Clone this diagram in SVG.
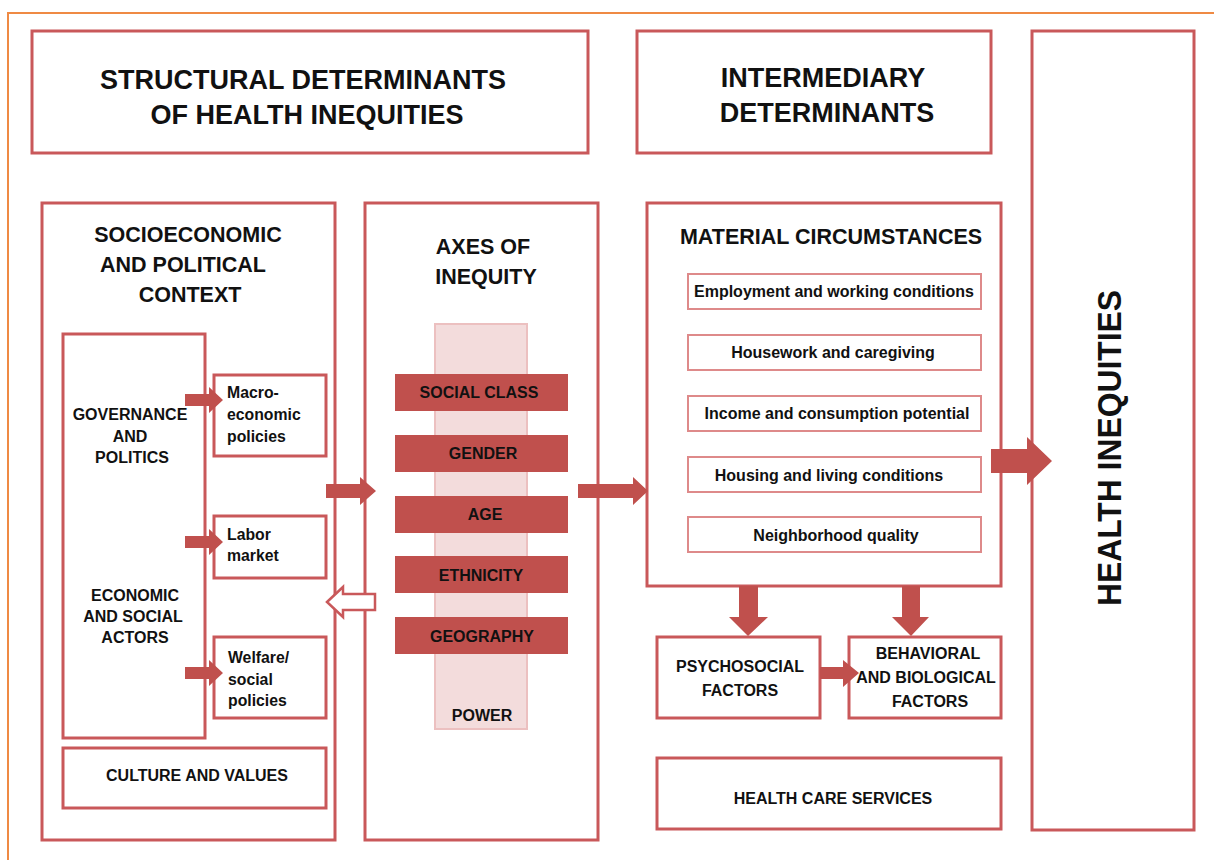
<svg xmlns="http://www.w3.org/2000/svg" width="1214" height="860" viewBox="0 0 1214 860">
<style>
.box{fill:#fff;stroke:#c9585a;stroke-width:3}
.sub{fill:#fff;stroke:#de8a8a;stroke-width:2}
.arr{fill:#c0504d;stroke:none}
.harr{fill:#fff;stroke:#c9585a;stroke-width:2.5}
.bar{fill:#c0504d}
.col{fill:#f3dcdc;stroke:#ecc0c0;stroke-width:2}
text{font-family:"Liberation Sans",Arial,sans-serif;font-weight:bold;fill:#111}
.t1{font-size:27px;text-anchor:middle}
.t2{font-size:21.5px;text-anchor:middle}
.t3{font-size:16px;text-anchor:middle}
.t4{font-size:15.8px}
.t5{font-size:16px;text-anchor:middle}
</style>
<rect width="1214" height="860" fill="#fff"/>
<path d="M8 860 V13 H1214" fill="none" stroke="#ef8a44" stroke-width="2"/>

<g id="structural-title">
<rect class="box" x="32" y="31" width="556" height="122"/>
<text class="t1" x="303" y="89">STRUCTURAL DETERMINANTS</text>
<text class="t1" x="307" y="124">OF HEALTH INEQUITIES</text>
</g>
<g id="intermediary-title">
<rect class="box" x="637" y="31" width="354" height="122"/>
<text class="t1" x="823" y="87">INTERMEDIARY</text>
<text class="t1" x="827" y="122">DETERMINANTS</text>
</g>
<g id="health-inequities">
<rect class="box" x="1032" y="31" width="162" height="799"/>
<text transform="translate(1121,448) rotate(-90)" font-size="34" text-anchor="middle" textLength="316" lengthAdjust="spacingAndGlyphs">HEALTH INEQUITIES</text>
</g>

<g id="socioeconomic-context">
<rect class="box" x="42" y="203" width="293" height="637"/>
<text class="t2" x="188" y="242">SOCIOECONOMIC</text>
<text class="t2" x="183" y="272">AND POLITICAL</text>
<text class="t2" x="190" y="302">CONTEXT</text>
</g>
<g id="governance">
<rect class="box" x="63" y="334" width="142" height="404"/>
<text class="t3" x="130" y="420">GOVERNANCE</text>
<text class="t3" x="130" y="442">AND</text>
<text class="t3" x="132" y="463">POLITICS</text>
<text class="t3" x="135" y="601">ECONOMIC</text>
<text class="t3" x="133" y="622">AND SOCIAL</text>
<text class="t3" x="135" y="643">ACTORS</text>
</g>
<g id="macroeconomic">
<rect class="box" x="214" y="375" width="112" height="81"/>
<text class="t4" x="227" y="398">Macro-</text>
<text class="t4" x="227" y="420">economic</text>
<text class="t4" x="227" y="442">policies</text>
</g>
<g id="labor-market">
<rect class="box" x="214" y="516" width="112" height="62"/>
<text class="t4" x="227" y="540">Labor</text>
<text class="t4" x="227" y="561">market</text>
</g>
<g id="welfare">
<rect class="box" x="214" y="637" width="112" height="81"/>
<text class="t4" x="228" y="663">Welfare/</text>
<text class="t4" x="228" y="685">social</text>
<text class="t4" x="228" y="706">policies</text>
</g>
<g id="culture">
<rect class="box" x="63" y="748" width="263" height="60"/>
<text class="t5" x="197" y="781">CULTURE AND VALUES</text>
</g>

<g id="axes-of-inequity">
<rect class="box" x="365" y="203" width="233" height="637"/>
<text class="t2" x="483" y="254">AXES OF</text>
<text class="t2" x="486" y="284">INEQUITY</text>
<rect class="col" x="435" y="324" width="92" height="405"/>
<text class="t5" x="482" y="721">POWER</text>
</g>
<g id="social-class"><rect class="bar" x="395" y="374" width="173" height="37"/><text class="t5" x="479" y="398">SOCIAL CLASS</text></g>
<g id="gender"><rect class="bar" x="395" y="435" width="173" height="37"/><text class="t5" x="483" y="459">GENDER</text></g>
<g id="age"><rect class="bar" x="395" y="496" width="173" height="37"/><text class="t5" x="485" y="520">AGE</text></g>
<g id="ethnicity"><rect class="bar" x="395" y="556" width="173" height="37"/><text class="t5" x="481" y="581">ETHNICITY</text></g>
<g id="geography"><rect class="bar" x="395" y="617" width="173" height="37"/><text class="t5" x="482" y="642">GEOGRAPHY</text></g>

<g id="material-circumstances">
<rect class="box" x="647" y="203" width="354" height="383"/>
<text class="t2" x="831" y="244">MATERIAL CIRCUMSTANCES</text>
</g>
<g id="employment"><rect class="sub" x="688" y="274" width="293" height="35"/><text class="t5" x="834" y="297">Employment and working conditions</text></g>
<g id="housework"><rect class="sub" x="688" y="335" width="293" height="35"/><text class="t5" x="833" y="358">Housework and caregiving</text></g>
<g id="income"><rect class="sub" x="688" y="396" width="293" height="35"/><text class="t5" x="837" y="419">Income and consumption potential</text></g>
<g id="housing"><rect class="sub" x="688" y="457" width="293" height="35"/><text class="t5" x="829" y="481">Housing and living conditions</text></g>
<g id="neighborhood"><rect class="sub" x="688" y="517" width="293" height="35"/><text class="t5" x="836" y="541">Neighborhood quality</text></g>

<g id="psychosocial">
<rect class="box" x="657" y="637" width="163" height="81"/>
<text class="t5" x="740" y="672">PSYCHOSOCIAL</text>
<text class="t5" x="740" y="696">FACTORS</text>
</g>
<g id="behavioral">
<rect class="box" x="849" y="637" width="152" height="81"/>
<text class="t5" x="928" y="659">BEHAVIORAL</text>
<text class="t5" x="926" y="683">AND BIOLOGICAL</text>
<text class="t5" x="930" y="707">FACTORS</text>
</g>
<g id="health-care">
<rect class="box" x="657" y="758" width="344" height="71"/>
<text class="t5" x="833" y="804">HEALTH CARE SERVICES</text>
</g>

<g id="connectors">
<polygon class="arr" points="185,394 209,394 209,387 223,400 209,413 209,406 185,406"/>
<polygon class="arr" points="185,536 209,536 209,529 223,542 209,555 209,548 185,548"/>
<polygon class="arr" points="185,667 209,667 209,660 223,673 209,686 209,679 185,679"/>
<polygon class="arr" points="326,484 360,484 360,477 376,491 360,505 360,498 326,498"/>
<polygon class="harr" points="327,602 343,587 343,594 375,594 375,610 343,610 343,617"/>
<polygon class="arr" points="578,484 633,484 633,477 648,491 633,505 633,498 578,498"/>
<polygon class="arr" points="991,449 1027,449 1027,437 1052,461 1027,485 1027,473 991,473"/>
<polygon class="arr" points="739,586 758,586 758,617 768,617 748,636 729,617 739,617"/>
<polygon class="arr" points="902,586 920,586 920,617 929,617 911,636 892,617 902,617"/>
<polygon class="arr" points="820,667 843,667 843,660 859,673 843,687 843,679 820,679"/>
</g>
</svg>
